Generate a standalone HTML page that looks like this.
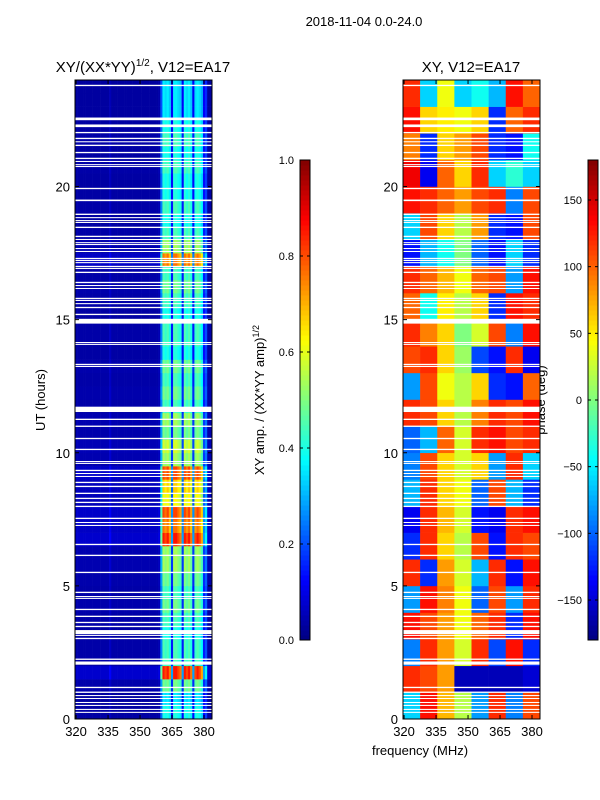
<!DOCTYPE html>
<html><head><meta charset="utf-8"><style>
html,body{margin:0;padding:0;background:#fff;}
svg{display:block;font-family:"Liberation Sans",sans-serif;}
</style></head><body>
<svg id="fig" width="600" height="800" viewBox="0 0 600 800">
<text x="364" y="26" font-size="13" text-anchor="middle">2018-11-04 0.0-24.0</text>
<text x="143" y="72" font-size="15" text-anchor="middle">XY/(XX*YY)<tspan font-size="10" dy="-6">1/2</tspan><tspan dy="6">, V12=EA17</tspan></text>
<text x="471" y="72" font-size="15" text-anchor="middle">XY, V12=EA17</text>
<text transform="translate(45,400) rotate(-90)" font-size="13" text-anchor="middle">UT (hours)</text>
<text x="420" y="755" font-size="13" text-anchor="middle">frequency (MHz)</text>
<text transform="translate(264,400) rotate(-90)" font-size="13" text-anchor="middle">XY amp. / (XX*YY amp)<tspan font-size="9" dy="-5">1/2</tspan></text>
<text transform="translate(545,400) rotate(-90)" font-size="13" text-anchor="middle">phase (deg)</text>
<g id="left"></g>
<g id="right"></g>
<g id="cb1"></g>
<g id="cb2"></g>
</svg>
<script>
const xTicks=[320,335,350,365,380];
const yTicks=[0,5,10,15,20];
const ampTicks=[0.0,0.2,0.4,0.6,0.8,1.0];
const phaseTicks=[-150,-100,-50,0,50,100,150];
// amplitude: 64 one-MHz columns from 319.5
const ampCol=[0.08,0.08,0.08,0.08,0.08,0.08,0.08,0.08,0.08,0.08,0.08,0.08,0.08,0.08,0.08,0.08,0.13,0.08,0.08,0.08,0.08,0.08,0.08,0.08,0.08,0.08,0.08,0.08,0.08,0.08,0.08,0.08,0.08,0.08,0.08,0.08,0.08,0.08,0.08,0.1,0.5,0.9,0.85,0.9,0.8,0.3,0.9,0.9,0.85,0.8,0.3,0.9,0.85,0.9,0.8,0.3,0.85,0.9,0.85,0.75,0.3,0.4,0.08,0.08];
// amplitude row level per half-hour, 0..24h
const ampRow=[0.45,0.4,0.55,0.95,0.5,0.5,0.45,0.5,0.55,0.5,0.55,0.6,0.6,0.95,0.85,0.9,0.7,0.75,0.9,0.6,0.65,0.55,0.6,0.5,0.55,0.5,0.55,0.45,0.5,0.5,0.45,0.5,0.55,0.5,0.85,0.6,0.5,0.45,0.5,0.45,0.45,0.5,0.45,0.5,0.45,0.4,0.4,0.4];
// phase grid: rows = hour 0..23, 8 frequency columns
const phaseRows=[
[-60,130,70,20,-80,120,-90,110],
[120,110,80,-160,-160,-160,-160,-150],
[-90,120,80,30,120,-110,130,-120],
[130,110,80,40,100,120,-120,130],
[-80,130,90,40,-100,110,-80,120],
[120,-120,80,30,-70,120,-130,130],
[-120,120,60,20,110,-130,120,110],
[-140,120,70,30,-130,-140,120,130],
[-70,120,60,40,-100,110,-70,-120],
[-90,110,60,30,60,-80,120,-60],
[-100,-70,100,30,120,130,110,120],
[120,110,60,20,90,120,110,130],
[-80,110,40,20,60,-120,-130,100],
[110,120,60,10,-110,-130,120,-140],
[120,90,60,0,30,110,-90,130],
[100,-40,50,20,60,-120,130,120],
[120,100,70,40,100,110,-80,130],
[-130,-70,-40,0,-100,-130,-60,-120],
[-60,110,60,20,80,-120,-130,110],
[130,120,100,80,110,120,-90,110],
[140,-140,100,60,120,-60,-30,-60],
[90,-120,60,80,110,-120,-130,-40],
[130,60,50,40,60,-120,100,120],
[120,-60,40,-60,-40,-70,130,100]];
// flagged (blank) times: start hour, duration
const gapStart=[23.77,22.49,22.23,22.0,21.78,21.66,21.52,21.25,21.03,20.92,20.80,20.73,19.90,19.45,18.93,18.81,18.70,18.63,18.44,18.10,17.99,17.87,17.80,17.65,17.54,17.27,17.20,17.12,16.97,16.90,16.75,16.37,16.26,16.15,15.77,15.70,15.58,15.43,15.17,14.85,14.12,14.05,13.29,13.22,11.53,11.23,10.97,10.51,10.10,9.65,9.58,9.31,9.20,9.09,8.86,8.71,8.45,8.26,8.11,7.96,7.51,7.36,7.25,6.53,6.12,5.48,4.73,4.58,4.51,4.09,3.83,3.60,3.45,3.19,3.12,3.00,2.22,2.04,1.16,0.98,0.86,0.75,0.60,0.49,0.34,0.23];
const gapLen=[0.05,0.1,0.1,0.05,0.05,0.04,0.05,0.05,0.05,0.04,0.04,0.04,0.05,0.06,0.05,0.04,0.04,0.04,0.05,0.05,0.04,0.04,0.04,0.04,0.04,0.05,0.04,0.04,0.05,0.04,0.05,0.05,0.04,0.04,0.05,0.04,0.04,0.05,0.05,0.18,0.04,0.04,0.05,0.04,0.2,0.05,0.05,0.05,0.05,0.04,0.04,0.05,0.04,0.04,0.05,0.05,0.05,0.05,0.05,0.05,0.05,0.04,0.04,0.05,0.05,0.05,0.05,0.04,0.04,0.05,0.05,0.05,0.05,0.15,0.04,0.05,0.05,0.12,0.05,0.05,0.04,0.04,0.04,0.04,0.04,0.04];

const NS='http://www.w3.org/2000/svg';
const F0=319.5,F1=383.75,T0=0,T1=24,PT=80,PB=719;
function jet(v){v=Math.max(0,Math.min(1,v));
 const r=Math.max(0,Math.min(1,1.5-Math.abs(4*v-3)));
 const g=Math.max(0,Math.min(1,1.5-Math.abs(4*v-2)));
 const b=Math.max(0,Math.min(1,1.5-Math.abs(4*v-1)));
 return 'rgb('+Math.round(r*255)+','+Math.round(g*255)+','+Math.round(b*255)+')';}
function mk(tag,at,parent){const e=document.createElementNS(NS,tag);for(const k in at)e.setAttribute(k,at[k]);parent.appendChild(e);return e;}
function yS(h){return PB-(h-T0)/(T1-T0)*(PB-PT);}

function panel(gid,L,R,fill,name){
 const g=document.getElementById(gid);
 const xS=f=>L+(f-F0)/(F1-F0)*(R-L);
 fill(g,xS);
 for(let i=0;i<gapStart.length;i++){
  const r=mk('rect',{x:L,y:yS(gapStart[i]+gapLen[i]),width:R-L,height:Math.max(1,yS(gapStart[i])-yS(gapStart[i]+gapLen[i])),fill:'#fff'},g);
  
  
 }
 const fr=mk('rect',{x:L,y:PT,width:R-L,height:PB-PT,fill:'none',stroke:'#000','stroke-width':1},g);
 
 
 xTicks.forEach(t=>{const x=xS(t);
  mk('line',{x1:x,x2:x,y1:PB,y2:PB-4,stroke:'#000'},g);mk('line',{x1:x,x2:x,y1:PT,y2:PT+4,stroke:'#000'},g);
  const tx=mk('text',{x:x,y:PB+17,'font-size':13,'text-anchor':'middle'},g);tx.textContent=t;
  
  });
 yTicks.forEach(t=>{const y=yS(t);
  mk('line',{x1:L,x2:L+4,y1:y,y2:y,stroke:'#000'},g);mk('line',{x1:R,x2:R-4,y1:y,y2:y,stroke:'#000'},g);
  const tx=mk('text',{x:L-5,y:y+5,'font-size':13,'text-anchor':'end'},g);tx.textContent=t;
  
  });
}
panel('left',75,212,(g,xS)=>{
 const dh=24/ampRow.length;
 for(let r=0;r<ampRow.length;r++)for(let c=0;c<ampCol.length;c++){
  const x0=xS(F0+c),x1=xS(F0+c+1);
  const e=mk('rect',{x:x0,y:yS((r+1)*dh),width:x1-x0+0.3,height:yS(r*dh)-yS((r+1)*dh)+0.3,fill:jet(ampCol[c]*ampRow[r])},g);
  
  
 }
},'amp-panel');
panel('right',403,540,(g,xS)=>{
 const nc=phaseRows[0].length,df=(F1-F0)/nc;
 for(let r=0;r<phaseRows.length;r++)for(let c=0;c<nc;c++){
  const x0=xS(F0+c*df),x1=xS(F0+(c+1)*df);
  const e=mk('rect',{x:x0,y:yS(r+1),width:x1-x0+0.3,height:yS(r)-yS(r+1)+0.3,fill:jet((phaseRows[r][c]+180)/360)},g);
  
  
 }
},'phase-panel');

function colorbar(gid,X,lo,hi,ticks,fmt){
 const g=document.getElementById(gid),Y0=160,Y1=640,W=10;
 for(let i=0;i<96;i++){const y=Y1-(i+1)*(Y1-Y0)/96;
  mk('rect',{x:X,y:y,width:W,height:(Y1-Y0)/96+0.5,fill:jet((i+0.5)/96)},g);}
 mk('rect',{x:X,y:Y0,width:W,height:Y1-Y0,fill:'none',stroke:'#000'},g);
 ticks.forEach(t=>{const y=Y1-(t-lo)/(hi-lo)*(Y1-Y0);
  mk('line',{x1:X,x2:X+3,y1:y,y2:y,stroke:'#000'},g);mk('line',{x1:X+W,x2:X+W-3,y1:y,y2:y,stroke:'#000'},g);
  const tx=mk('text',{x:X-6,y:y+4,'font-size':11,'text-anchor':'end'},g);
  tx.textContent=fmt(t);
  
  });
}
colorbar('cb1',300,0,1,ampTicks,t=>t.toFixed(1));
colorbar('cb2',588,-180,180,phaseTicks,t=>t<0?'\u2212'+(-t):String(t));
</script>
</body></html>
